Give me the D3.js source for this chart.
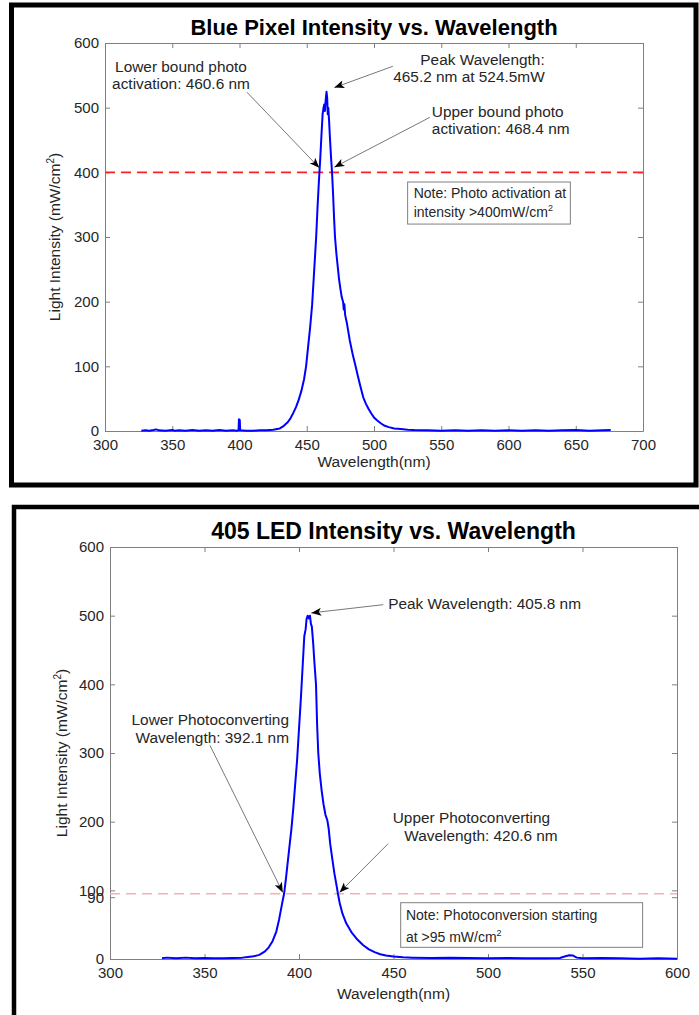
<!DOCTYPE html>
<html>
<head>
<meta charset="utf-8">
<script src="https://cdn.jsdelivr.net/npm/d3@7"></script>
<style>
  body { margin: 0; background: #fff; }
  text { font-family: Helvetica, Arial, "Liberation Sans", sans-serif; fill: #262626; }
</style>
</head>
<body>
<div id="chart"></div>
<script>
// ---- data ----
// blue pixel: [wavelength nm, intensity mW/cm2]
const blueSpectrum = [
  [327,0.5],[330,1],[333,0.5],[336,1.5],[338,2.5],[340,1],[345,0.5],[350,1.5],[352,0.5],[355,1],
  [360,0.5],[365,1.5],[370,0.5],[375,1],[380,0.5],[385,1.5],[390,0.5],[395,1],[398,0.5],[399.3,1],
  [399.6,18],[400.2,17],[400.5,1],[405,0.5],[410,0.5],[415,1],[420,1],[425,2],[430,4],[433,8],
  [436,14],[438,20],[440,28],[442,37],[444,48],[446,62],[448,80],[449.5,100],[451,130],[452.5,160],
  [454,195],[455,230],[456,265],[457,300],[458,345],[459,385],[460,420],[461,460],[461.8,490],[462.5,500],
  [463,505],[463.5,495],[464,510],[464.7,524.5],[465.2,515],[465.6,490],[466,500],[466.6,480],[467.2,455],[468,425],
  [468.8,400],[469.5,370],[470.3,330],[471,300],[472,275],[473,255],[474,235],[475,220],[476,207],[477,200],
  [477.5,188],[478,196],[478.5,180],[479,175],[480,165],[482,140],[484,120],[486,103],[488,85],[490,68],
  [492,52],[494,42],[496,34],[498,27],[500,21],[502,17],[505,12],[508,8],[511,6],[515,4],
  [520,3],[525,2],[530,1.5],[540,1],[550,0.5],[560,1],[570,0.5],[580,1],[590,0.5],[600,1],
  [610,0.5],[620,1],[630,0.5],[640,1],[650,1.5],[660,0.5],[670,1],[676,1.5]
];

// 405 LED: [wavelength nm, intensity mW/cm2]
const ledSpectrum = [
  [327.5,1],[330,2],[335,1],[340,2],[345,1],[350,1.5],[355,1],[360,1],[365,1.5],[370,2],
  [373,3],[376,4],[379,6],[382,11],[384,17],[386,26],[388,40],[389.5,58],[391,80],[392.1,95],
  [393,115],[394,140],[395,165],[396,190],[397,220],[398,255],[399,290],[400,335],[401,380],[402,430],
  [402.8,470],[403.5,480],[404,495],[404.6,500],[405.2,496],[405.8,500],[406.3,488],[406.8,484],[407.5,460],[408.2,430],
  [409,400],[409.6,340],[410.2,300],[411,270],[412,245],[413,225],[414,210],[415,202],[415.7,190],[416.5,168],
  [417.5,148],[418.7,125],[420,105],[420.6,95],[421.5,82],[423,66],[425,52],[428,38],[431,28],[434,20],
  [437,14],[440,10],[443,7],[446,5],[450,3.5],[455,2.5],[460,2],[470,1.5],[480,2],[490,1.5],
  [500,1],[510,1.5],[520,1],[530,1],[538,1.5],[541,4],[543,5.5],[545,5],[547,2],[550,1],
  [560,1.5],[570,1],[580,0.5],[590,1],[600,0.5]
];

// axes ticks
const blueXTicks = [300, 350, 400, 450, 500, 550, 600, 650, 700];
const blueYTicks = [0, 100, 200, 300, 400, 500, 600];
const ledXTicks = [300, 350, 400, 450, 500, 550, 600];
const ledYTicks = [0, 90, 100, 200, 300, 400, 500, 600];

// thresholds
const blueThreshold = 400;
const ledThreshold = 95;

// titles
const titles = ["Blue Pixel Intensity vs. Wavelength", "405 LED Intensity vs. Wavelength"];

// annotation text lines: [x, y, text, anchor]  (data coords)
const blueLabels = [
  [356.5, 555, "Lower bound photo", "middle"],
  [356.5, 529, "activation: 460.6 nm", "middle"],
  [626.9, 566, "Peak Wavelength:", "end"],
  [626.9, 540, "465.2 nm at 524.5mW", "end"],
  [543, 485, "Upper bound photo", "start"],
  [543, 459, "activation: 468.4 nm", "start"]
];
const ledLabels = [
  [447.2, 509, "Peak Wavelength: 405.8 nm", "start"],
  [394.7, 341.5, "Lower Photoconverting", "end"],
  [394.7, 314, "Wavelength: 392.1 nm", "end"],
  [449.6, 198, "Upper Photoconverting", "start"],
  [455.7, 171.5, "Wavelength: 420.6 nm", "start"]
];
// arrows: [fromX, fromY, toX, toY]  (data coords)
const blueArrows = [
  [405.5, 524, 459.3, 407],
  [514, 564, 470.5, 531],
  [541.5, 485, 470.5, 408]
];
const ledArrows = [
  [444.6, 516, 406.5, 504],
  [352.9, 311, 391.4, 97],
  [447.2, 168, 421.5, 97]
];
// note boxes: [x0, y0, x1, y1] and lines
const blueNote = { box: [525, 385, 646, 320], x: 529.5, lines: [[360, "Note: Photo activation at"], [331, "intensity >400mW/cm"]] };
const ledNote = { box: [453.8, 82, 581.8, 17], x: 456.6, lines: [[57.5, "Note: Photoconversion starting"], [24.8, "at >95 mW/cm"]] };

// ---- drawing ----
const width = 699, height = 1015;
const svg = d3.select("#chart").append("svg")
  .attr("width", width)
  .attr("height", height);

svg.append("defs").append("marker")
  .attr("id", "arrow")
  .attr("markerUnits", "userSpaceOnUse")
  .attr("markerWidth", 11).attr("markerHeight", 8)
  .attr("refX", 10).attr("refY", 4)
  .attr("orient", "auto")
  .append("path")
  .attr("d", "M0,0 L10,4 L0,8 L2.5,4 Z")
  .attr("fill", "#000");

// panel frames
svg.append("rect")
  .attr("x", 11.5).attr("y", 5).attr("width", 684.5).attr("height", 480)
  .attr("fill", "none").attr("stroke", "#000").attr("stroke-width", 5);
svg.append("rect")
  .attr("x", 14).attr("y", 507).attr("width", 720).attr("height", 600)
  .attr("fill", "none").attr("stroke", "#000").attr("stroke-width", 4.5);

const panels = [
  { spectrum: blueSpectrum, xDom: [300, 700], xRange: [105, 643], yRange: [431, 43],
    xTicks: blueXTicks, yTicks: blueYTicks, thr: blueThreshold, thrColor: "#ff2020",
    title: titles[0], titleSize: 22, titleY: 35, xLabelY: 467, yLabelX: 60,
    labels: blueLabels, arrows: blueArrows, note: blueNote },
  { spectrum: ledSpectrum, xDom: [300, 600], xRange: [110, 677], yRange: [959, 547],
    xTicks: ledXTicks, yTicks: ledYTicks, thr: ledThreshold, thrColor: "#f2b3b3",
    title: titles[1], titleSize: 23, titleY: 539, xLabelY: 999, yLabelX: 67,
    labels: ledLabels, arrows: ledArrows, note: ledNote }
];

panels.forEach(function(p) {
  const x = d3.scaleLinear().domain(p.xDom).range(p.xRange);
  const y = d3.scaleLinear().domain([0, 600]).range(p.yRange);
  const g = svg.append("g");
  const [x0, x1] = p.xRange, [yb, yt] = p.yRange;

  // axes (MATLAB box style, ticks inside)
  const styleAxis = function(sel) {
    sel.select(".domain").attr("stroke", "#808080");
    sel.selectAll(".tick line").attr("stroke", "#808080");
    sel.selectAll(".tick text").attr("fill", "#262626")
      .style("font-size", "15px")
      .style("font-family", "Helvetica, Arial, 'Liberation Sans', sans-serif");
  };
  g.append("g").attr("transform", `translate(0,${yb})`)
    .call(d3.axisBottom(x).tickValues(p.xTicks).tickFormat(d3.format("d")).tickSize(-5).tickSizeOuter(0).tickPadding(8))
    .call(styleAxis);
  g.append("g").attr("transform", `translate(0,${yt})`)
    .call(d3.axisTop(x).tickValues(p.xTicks).tickFormat("").tickSize(-5).tickSizeOuter(0))
    .call(styleAxis);
  g.append("g").attr("transform", `translate(${x0},0)`)
    .call(d3.axisLeft(y).tickValues(p.yTicks).tickFormat(d3.format("d")).tickSize(-5).tickSizeOuter(0).tickPadding(6))
    .call(styleAxis);
  g.append("g").attr("transform", `translate(${x1},0)`)
    .call(d3.axisRight(y).tickValues(p.yTicks).tickFormat("").tickSize(-5).tickSizeOuter(0))
    .call(styleAxis);
  g.selectAll(".domain").attr("fill", "none");
  g.selectAll("text").attr("font-size", null);

  // threshold
  g.append("line")
    .attr("x1", x0).attr("x2", x1)
    .attr("y1", y(p.thr)).attr("y2", y(p.thr))
    .attr("stroke", p.thrColor).attr("stroke-width", 1.6)
    .attr("stroke-dasharray", "10,6");

  // spectrum
  const line = d3.line().x(d => x(d[0])).y(d => y(d[1]));
  g.append("path")
    .datum(p.spectrum)
    .attr("d", line)
    .attr("fill", "none")
    .attr("stroke", "#0000ff")
    .attr("stroke-width", 2)
    .attr("stroke-linejoin", "round");

  // title
  g.append("text")
    .attr("x", (x0 + x1) / 2).attr("y", p.titleY)
    .attr("text-anchor", "middle")
    .style("font-size", p.titleSize + "px").style("font-weight", "bold")
    .style("fill", "#000")
    .text(p.title);

  // axis labels
  g.append("text")
    .attr("x", (x0 + x1) / 2).attr("y", p.xLabelY)
    .attr("text-anchor", "middle")
    .style("font-size", "15.5px")
    .text("Wavelength(nm)");
  const yl = g.append("text")
    .attr("transform", `translate(${p.yLabelX},${(yb + yt) / 2}) rotate(-90)`)
    .attr("text-anchor", "middle")
    .style("font-size", "15.5px");
  yl.append("tspan").text("Light Intensity (mW/cm");
  yl.append("tspan").attr("dy", -6).style("font-size", "10px").text("2");
  yl.append("tspan").attr("dy", 6).text(")");

  // arrows
  g.selectAll(".arrow")
    .data(p.arrows)
    .join("line")
    .attr("class", "arrow")
    .attr("x1", d => x(d[0])).attr("y1", d => y(d[1]))
    .attr("x2", d => x(d[2])).attr("y2", d => y(d[3]))
    .attr("stroke", "#555").attr("stroke-width", 0.8)
    .attr("marker-end", "url(#arrow)");

  // annotation text
  g.selectAll(".lbl")
    .data(p.labels)
    .join("text")
    .attr("class", "lbl")
    .attr("x", d => x(d[0])).attr("y", d => y(d[1]))
    .attr("text-anchor", d => d[3])
    .style("font-size", "15.4px")
    .text(d => d[2]);

  // note box
  const b = p.note.box;
  g.append("rect")
    .attr("x", x(b[0])).attr("y", y(b[1]))
    .attr("width", x(b[2]) - x(b[0])).attr("height", y(b[3]) - y(b[1]))
    .attr("fill", "#fff").attr("stroke", "#808080").attr("stroke-width", 1);
  p.note.lines.forEach(function(l, i) {
    const t = g.append("text")
      .attr("x", x(p.note.x)).attr("y", y(l[0]))
      .style("font-size", "14px");
    t.append("tspan").text(l[1]);
    if (i === 1) {
      t.append("tspan").attr("dy", -6).style("font-size", "9px").text("2");
    }
  });
});
</script>
</body>
</html>
